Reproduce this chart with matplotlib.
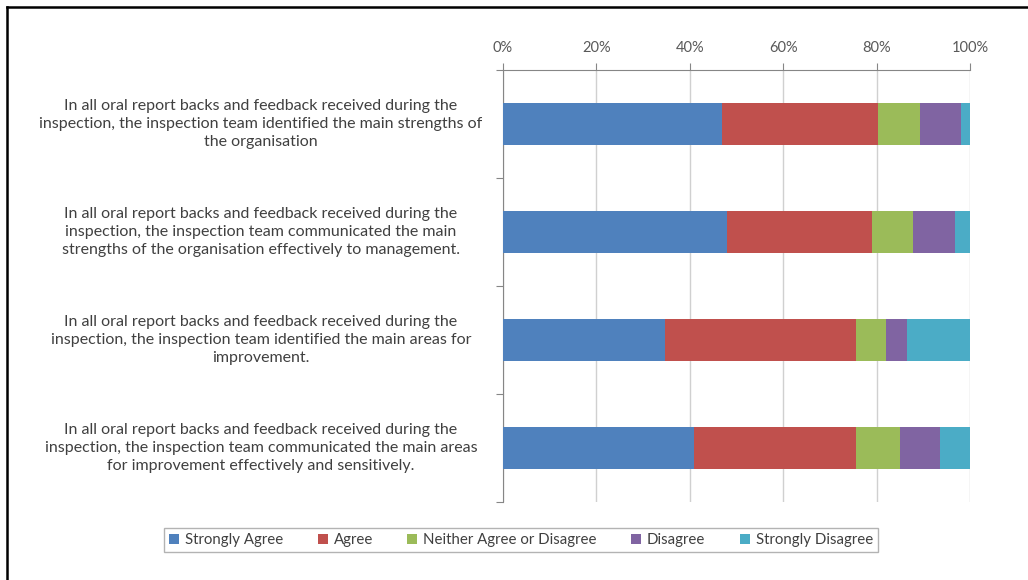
import matplotlib
matplotlib.use("Agg")
import matplotlib.pyplot as plt
from matplotlib.lines import Line2D
from matplotlib.patches import Patch
import matplotlib.transforms as mtransforms
import numpy as np

categories = [
    "In all oral report backs and feedback received during the\ninspection, the inspection team identified the main strengths of\nthe organisation",
    "In all oral report backs and feedback received during the\ninspection, the inspection team communicated the main\nstrengths of the organisation effectively to management.",
    "In all oral report backs and feedback received during the\ninspection, the inspection team identified the main areas for\nimprovement.",
    "In all oral report backs and feedback received during the\ninspection, the inspection team communicated the main areas\nfor improvement effectively and sensitively.",
]
series_names = ["Strongly Agree", "Agree", "Neither Agree or Disagree", "Disagree", "Strongly Disagree"]
strongly_agree = [47.0, 47.9, 34.7, 41.0]
agree = [33.2, 31.1, 40.8, 34.5]
neither = [9.2, 8.7, 6.6, 9.5]
disagree = [8.6, 9.1, 4.4, 8.6]
strongly_disagree = [2.0, 3.2, 13.5, 6.4]
tick_labels = ["0%", "20%", "40%", "60%", "80%", "100%"]

colors = ["#4F81BD", "#C0504D", "#9BBB59", "#8064A2", "#4BACC6"]
series = [strongly_agree, agree, neither, disagree, strongly_disagree]

plt.rcParams['font.family'] = ['Lato', 'DejaVu Sans']
text_color = "#404040"

fig = plt.figure(figsize=(10.28, 5.8), dpi=100)
ax = fig.add_axes([503/1028, 1 - 502/580, 467/1028, 432/580])

y = np.arange(len(categories))
left = np.zeros(len(categories))
for vals, col, name in zip(series, colors, series_names):
    v = np.array(vals)
    ax.barh(y, v, left=left, height=0.39, color=col, label=name, zorder=3)
    left += v

ax.set_xlim(0, 100)
ax.set_ylim(len(categories) - 0.5, -0.5)
ax.xaxis.tick_top()
ax.set_xticks(np.linspace(0, 100, len(tick_labels)))
ax.set_xticklabels(tick_labels, fontsize=10.5, color="#595959")
ax.tick_params(axis='x', length=5, color="#868686", pad=6)
ax.grid(axis='x', color="#d0d0d0", linewidth=1, zorder=0)

ax.set_yticks(np.arange(-0.5, len(categories) + 0.5, 1.0))
ax.set_yticklabels([])
ax.tick_params(axis='y', length=5, color="#868686")

for s in ['right', 'bottom']:
    ax.spines[s].set_visible(False)
for s in ['left', 'top']:
    ax.spines[s].set_color("#868686")

trans = mtransforms.blended_transform_factory(fig.transFigure, ax.transData)
for i, lab in enumerate(categories):
    fig.text(261/1028, i, lab, transform=trans, ha='center', va='center',
             multialignment='center', fontsize=11.5, color=text_color, linespacing=1.32)

handles = [Patch(facecolor=c, edgecolor='none') for c in colors]
leg = fig.legend(handles, series_names, loc='center', bbox_to_anchor=(521/1028, 1 - 540/580),
                 ncol=5, fontsize=10.8, frameon=True, fancybox=False, handlelength=0.65,
                 handleheight=0.65, handletextpad=0.4, columnspacing=2.3, borderpad=0.35)
leg.get_frame().set_edgecolor("#a0a0a0")
leg.get_frame().set_linewidth(1)
for t in leg.get_texts():
    t.set_color(text_color)

# outer frame (left and top edges)
fig.add_artist(Line2D([7/1028, 7/1028], [0, 1 - 7/580], transform=fig.transFigure, color='black', linewidth=1.8))
fig.add_artist(Line2D([7/1028, 1], [1 - 7/580, 1 - 7/580], transform=fig.transFigure, color='black', linewidth=1.8))

fig.savefig("out.png", dpi=100)
